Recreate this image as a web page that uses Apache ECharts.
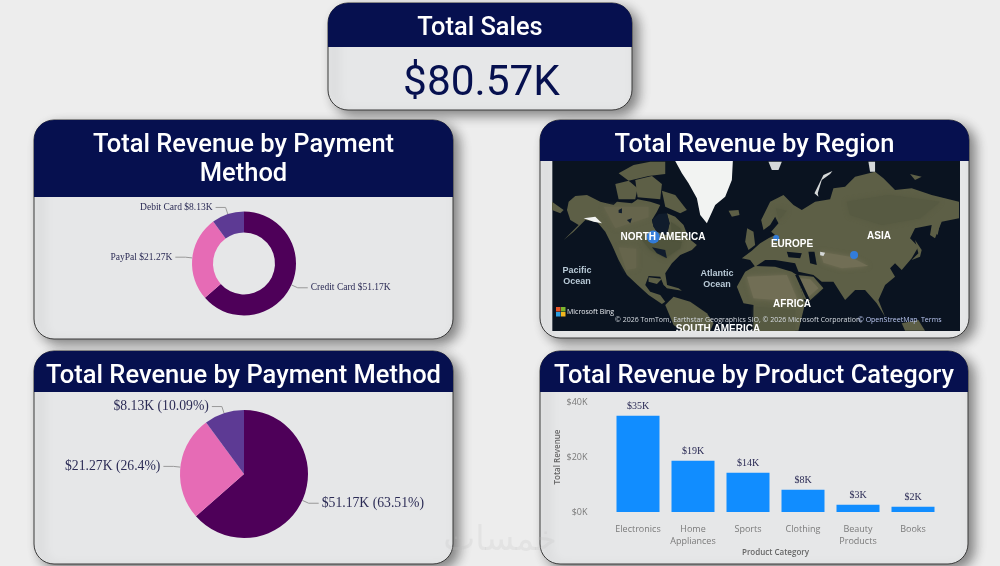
<!DOCTYPE html>
<html>
<head>
<meta charset="utf-8">
<style>
html,body{margin:0;padding:0;width:1000px;height:566px;overflow:hidden;background:#ededed}
#main{position:absolute;left:0;top:0;width:1000px;height:566px}
#map{position:absolute;left:552px;top:161px;width:408px;height:170px;overflow:hidden}
#map canvas{filter:blur(.5px)}
</style>
<script src="https://cdn.jsdelivr.net/npm/echarts@6/dist/echarts.min.js"></script>
</head>
<body>
<div id="main"></div>
<div id="map"></div>
<script>
// ---------- data ----------
const totalSales = '$80.57K';
const paymentMethods = ['Credit Card', 'PayPal', 'Debit Card'];
const paymentRevenue = [51.17, 21.27, 8.13];
const paymentColors = ['#4e0059', '#e66bb5', '#5d3a94'];
const productCategories = ['Electronics', 'Home Appliances', 'Sports', 'Clothing', 'Beauty Products', 'Books'];
const productRevenue = [35, 18.6, 14.3, 8.1, 2.6, 1.9];
const revenueTicks = [0, 20, 40];
const regionNames = ['North America', 'Europe', 'Asia'];
const regionBubblePx = [[653, 237], [776, 238], [854, 255]];
const regionBubbleSize = [13, 6, 8];

// ---------- base-map outlines (traced, in two zoomed frames) ----------
const westLand = [
  [[55,125],[75,108],[110,105],[150,125],[190,135],[200,125],[245,130],[262,118],[300,125],[330,135],[320,155],[305,180],[310,200],[320,215],[350,225],[358,190],[350,160],[375,170],[400,195],[415,235],[440,255],[425,270],[390,285],[365,310],[345,340],[352,385],[340,375],[330,350],[295,348],[285,375],[300,395],[330,405],[345,425],[335,432],[295,405],[262,375],[230,345],[205,300],[185,255],[165,215],[140,185],[105,180],[70,215],[40,240],[85,195],[60,180],[50,150]],
  [[195,72],[235,62],[262,85],[255,118],[205,118]],
  [[255,60],[305,48],[335,72],[330,118],[262,112]],
  [[335,92],[375,105],[410,150],[390,160],[345,140]],
  [[205,40],[250,15],[300,5],[345,5],[345,42],[295,48],[235,62]],
  [[535,152],[565,150],[568,165],[545,170]],
  [[345,435],[370,410],[420,425],[470,460],[490,490],[480,512],[395,512],[370,495]],
  [[5,125],[40,150],[30,160],[5,150]],
  [[340,372],[385,385],[395,392],[350,385]],
  [[295,352],[335,356],[320,372],[295,365]]
];
const westTan = [[[205,262],[258,266],[258,325],[228,330]],[[160,140],[295,140],[295,172],[195,205]]];
const westDark = [[[275,240],[345,235],[395,245],[390,265],[345,295],[300,270]],[[362,185],[390,205],[400,232],[365,226]]];
const westIce = [[[375,3],[548,3],[545,60],[525,110],[495,135],[470,190],[450,165],[440,115],[415,70],[395,40]],[[100,175],[135,170],[155,190],[130,185]]];
const westWater = [[[305,262],[345,270],[350,295],[320,280]],[[205,150],[215,145],[215,160],[205,158]],[[230,180],[245,175],[240,190]],[[305,180],[310,200],[320,215],[350,225],[358,190],[350,160],[325,162]]];
const eastLand = [
  [[-40,295],[-10,272],[15,250],[40,235],[60,225],[48,215],[70,190],[60,170],[45,195],[25,210],[18,180],[45,125],[85,105],[115,135],[140,150],[180,125],[225,118],[235,85],[270,80],[300,50],[360,35],[385,55],[420,90],[470,85],[530,105],[612,125],[612,175],[560,185],[540,235],[525,225],[530,195],[480,205],[465,235],[490,260],[470,295],[440,330],[420,310],[405,325],[420,350],[390,375],[370,420],[390,470],[365,430],[330,390],[300,390],[270,420],[235,365],[200,365],[175,345],[130,335],[120,310],[60,300],[30,300],[0,320],[-15,300]],
  [[-55,380],[-30,335],[0,318],[60,320],[110,335],[125,345],[150,430],[130,512],[-5,512],[-5,435],[-35,430]],
  [[125,345],[175,350],[205,385],[160,425],[145,415]],
  [[-24,205],[-5,215],[0,255],[-20,270],[-30,245]],
  [[540,215],[555,190],[548,225]],
  [[480,240],[500,270],[495,290],[470,300],[490,280]],
  [[440,490],[490,480],[510,512],[450,512]],
  [[465,42],[500,50],[480,60]]
];
const eastTan = [[[-25,350],[95,345],[130,425],[-5,415]],[[135,355],[165,358],[190,385],[160,410]],[[195,275],[285,290],[340,318],[260,325],[205,308]]];
const eastDark = [[[275,125],[400,105],[555,125],[495,175],[380,195],[285,165]],[[0,440],[120,450],[120,512],[0,512]],[[62,145],[95,152],[72,180]]];
const eastIce = [[[178,100],[205,45],[232,33],[225,42],[200,60],[188,100],[190,110]],[[40,5],[80,5],[70,30],[50,30]],[[340,5],[360,5],[360,35],[345,35]],[[195,275],[210,278],[205,288],[195,286]]];
const eastWater = [[[95,275],[140,280],[135,295],[100,292]],[[160,275],[178,275],[185,315],[165,310]],[[120,345],[130,345],[165,420],[155,420]]];

const west = p => p.map(q => [(550 + q[0] / 3) - 552, (160 + q[1] / 3) - 161]);
const east = p => p.map(q => [(755 + q[0] / 3) - 552, (160 + q[1] / 3) - 161]);
const layers = [
  { polys: [[[0,0],[408,0],[408,170],[0,170]]], color: '#0a1320' },
  { polys: westLand.map(west), color: '#5d5f46' },
  { polys: eastLand.map(east), color: '#5d5f46' },
  { polys: westTan.map(west), color: '#66654c', soft: 5 },
  { polys: westDark.map(west), color: '#50543c', soft: 5 },
  { polys: eastTan.map(east), color: '#716e55', soft: 5 },
  { polys: eastDark.map(east), color: '#575a42', soft: 5 },
  { polys: westIce.map(west), color: '#f2f3f2' },
  { polys: eastIce.map(east), color: '#d5d8d8' },
  { polys: westWater.map(west), color: '#101c2c' },
  { polys: eastWater.map(east), color: '#0a1320' }
];
const features = [], regionStyles = [];
layers.forEach((l, i) => l.polys.forEach((poly, j) => {
  const name = 'm' + i + '_' + j;
  features.push({ type: 'Feature', properties: { name }, geometry: { type: 'Polygon', coordinates: [poly.concat([poly[0]])] } });
  regionStyles.push({ name, itemStyle: { areaColor: l.color, borderWidth: 0, shadowBlur: l.soft || 0, shadowColor: l.color }, silent: true });
}));
echarts.registerMap('baseMap', { type: 'FeatureCollection', features });

const mapBold = 'bold 10px "Liberation Sans"', oceanBold = 'bold 9px "Liberation Sans"';
const mapLabels = [
  ['NORTH AMERICA', 111, 76, '#fff', mapBold],
  ['EUROPE', 240, 83, '#fff', mapBold],
  ['ASIA', 327, 75, '#fff', mapBold],
  ['AFRICA', 240, 143, '#fff', mapBold],
  ['SOUTH AMERICA', 166, 168, '#fff', mapBold],
  ['Pacific', 25, 110, '#b8c9d6', oceanBold],
  ['Ocean', 25, 121, '#b8c9d6', oceanBold],
  ['Atlantic', 165, 113, '#b8c9d6', oceanBold],
  ['Ocean', 165, 124, '#b8c9d6', oceanBold]
];
const attrib = '\u00a9 2026 TomTom, Earthstar Geographics SIO, \u00a9 2026 Microsoft Corporation, ';

const mapChart = echarts.init(document.getElementById('map'), null, { renderer: 'canvas' });
mapChart.setOption({
  animation: false,
  geo: {
    map: 'baseMap', silent: true, roam: false,
    projection: { project: p => [p[0], p[1]], unproject: p => [p[0], p[1]] },
    left: 0, top: 0, width: 408, height: 170,
    label: { show: false },
    itemStyle: { borderWidth: 0, areaColor: '#5d5f45' },
    regions: regionStyles
  },
  series: [{
    type: 'scatter', coordinateSystem: 'geo', silent: true, z: 5,
    data: regionNames.map((n, i) => ({ name: n, value: [regionBubblePx[i][0] - 552, regionBubblePx[i][1] - 161], symbolSize: regionBubbleSize[i] })),
    itemStyle: { color: '#2f7fe6', opacity: .92 }
  }],
  graphic: mapLabels.map(l => ({
    type: 'text', z: 10, x: l[1], y: l[2],
    style: { text: l[0], align: 'center', verticalAlign: 'middle', fill: l[3], font: l[4] }
  })).concat(
    [['#e8562a',4,146],['#7db52c',9,146],['#2c9fe0',4,151],['#f2b51e',9,151]].map(s => ({
      type: 'rect', z: 10, shape: { x: s[1], y: s[2], width: 4.5, height: 4.5 }, style: { fill: s[0] }
    })),
    [
      { type: 'text', z: 10, x: 15, y: 151, style: { text: 'Microsoft Bing', fill: '#e6e9ee', font: '7px "Open Sans"', verticalAlign: 'middle' } },
      { type: 'text', z: 10, x: 63, y: 159, style: { text: attrib, fill: '#d7dce2', font: '7px "Open Sans"', verticalAlign: 'middle' } },
      { type: 'text', z: 10, x: 306, y: 159, style: { text: '\u00a9 OpenStreetMap', fill: '#b9c6f0', font: '7px "Open Sans"', verticalAlign: 'middle' } },
      { type: 'text', z: 10, x: 369, y: 159, style: { text: 'Terms', fill: '#b9c6f0', font: '7px "Open Sans"', verticalAlign: 'middle' } }
    ]
  )
});

// ---------- main dashboard ----------
const navy = '#06104f', cardFill = '#e6e7e8', R = 20;
const titleFont = '500 25.5px Roboto';
const cards = [
  { x: 328, y: 3, w: 304, h: 107, hh: 44, titles: [['Total Sales', 28.5, '500 25.4px Roboto']] },
  { x: 34, y: 120, w: 419, h: 219, hh: 77, titles: [['Total Revenue by Payment', 145.5, titleFont], ['Method', 174.5, titleFont]] },
  { x: 540, y: 120, w: 429, h: 218, hh: 41, titles: [['Total Revenue by Region', 145.5, titleFont]] },
  { x: 34, y: 351, w: 419, h: 213, hh: 41, titles: [['Total Revenue by Payment Method', 376.5, titleFont]] },
  { x: 540, y: 351, w: 428, h: 213, hh: 41, titles: [['Total Revenue by Product Category', 376.5, titleFont]] }
];
const graphics = [];
cards.forEach(c => {
  graphics.push({ type: 'rect', z: 0, shape: { x: c.x, y: c.y, width: c.w, height: c.h, r: R },
    style: { fill: cardFill, stroke: '#3a3a3a', lineWidth: 1, shadowBlur: 12, shadowOffsetX: 6, shadowOffsetY: 5, shadowColor: 'rgba(0,0,0,.45)' } });
  graphics.push({ type: 'rect', z: 1, shape: { x: c.x, y: c.y, width: c.w, height: c.hh, r: [R, R, 0, 0] }, style: { fill: navy } });
  c.titles.forEach(t => graphics.push({ type: 'text', z: 2, x: c.x + c.w / 2, y: t[1],
    style: { text: t[0], fill: '#fff', font: t[2], align: 'center', verticalAlign: 'middle' } }));
});
graphics.push({ type: 'text', z: 2, x: 481.5, y: 84, style: { text: totalSales, fill: navy, font: '400 42.4px Roboto', align: 'center', verticalAlign: 'middle' } });
graphics.push({ type: 'text', z: 30, x: 500, y: 541, style: { text: '\u062e\u0645\u0633\u0627\u062a', fill: 'rgba(190,190,190,.22)', font: '34px "DejaVu Sans"', align: 'center', verticalAlign: 'middle' } });

const total = paymentRevenue.reduce((a, b) => a + b, 0);
const pct = v => parseFloat((v / total * 100).toFixed(2));
const pieData = paymentMethods.map((n, i) => ({ name: n, value: paymentRevenue[i], itemStyle: { color: paymentColors[i] } }));
const labelColor = '#2b2b55';

const chart = echarts.init(document.getElementById('main'), null, { renderer: 'canvas' });
chart.setOption({
  animation: false,
  backgroundColor: '#ededed',
  graphic: graphics,
  grid: { left: 610.5, width: 330, top: 402, height: 110 },
  xAxis: {
    type: 'category', data: productCategories,
    axisLine: { show: false }, axisTick: { show: false },
    axisLabel: { color: '#7a7a7a', fontFamily: 'Open Sans', fontSize: 9, margin: 11, lineHeight: 12, interval: 0, formatter: v => v.replace(' ', '\n') },
    name: 'Product Category', nameLocation: 'middle', nameGap: 37,
    nameTextStyle: { color: '#666', fontFamily: 'Open Sans', fontSize: 8, fontWeight: 600 }
  },
  yAxis: {
    type: 'value', min: revenueTicks[0], max: revenueTicks[2], interval: revenueTicks[1],
    axisLine: { show: false }, axisTick: { show: false }, splitLine: { show: false },
    axisLabel: { color: '#7a7a7a', fontFamily: 'Open Sans', fontSize: 9, margin: 23, formatter: v => '$' + v + 'K' },
    name: 'Total Revenue', nameLocation: 'middle', nameGap: 49, nameRotate: 90,
    nameTextStyle: { color: '#666', fontFamily: 'Open Sans', fontSize: 8, fontWeight: 600 }
  },
  series: [
    {
      type: 'bar', data: productRevenue, barWidth: 43, z: 5, silent: true,
      itemStyle: { color: '#118dff' },
      label: { show: true, position: 'top', distance: 4, color: labelColor, fontFamily: 'Liberation Serif', fontSize: 10, formatter: p => '$' + Math.round(p.value) + 'K' }
    },
    {
      type: 'pie', center: [244, 263.5], radius: [31, 52], startAngle: 90, clockwise: true, data: pieData, z: 5, silent: true,
      label: { color: labelColor, fontFamily: 'Liberation Serif', fontSize: 9.5, distanceToLabelLine: 3, formatter: p => p.name + ' $' + p.value + 'K' },
      labelLine: { length: 7, length2: 10, lineStyle: { color: '#999', width: 1 } },
      itemStyle: { borderWidth: 0 }
    },
    {
      type: 'pie', center: [244, 474], radius: [0, 64], startAngle: 90, clockwise: true, data: pieData, z: 5, silent: true,
      label: { color: labelColor, fontFamily: 'Liberation Serif', fontSize: 13.7, distanceToLabelLine: 3, formatter: p => '$' + p.value + 'K (' + pct(p.value) + '%)' },
      labelLine: { length: 7, length2: 10, lineStyle: { color: '#999', width: 1 } },
      itemStyle: { borderWidth: 0 }
    }
  ]
});
</script>
</body>
</html>
